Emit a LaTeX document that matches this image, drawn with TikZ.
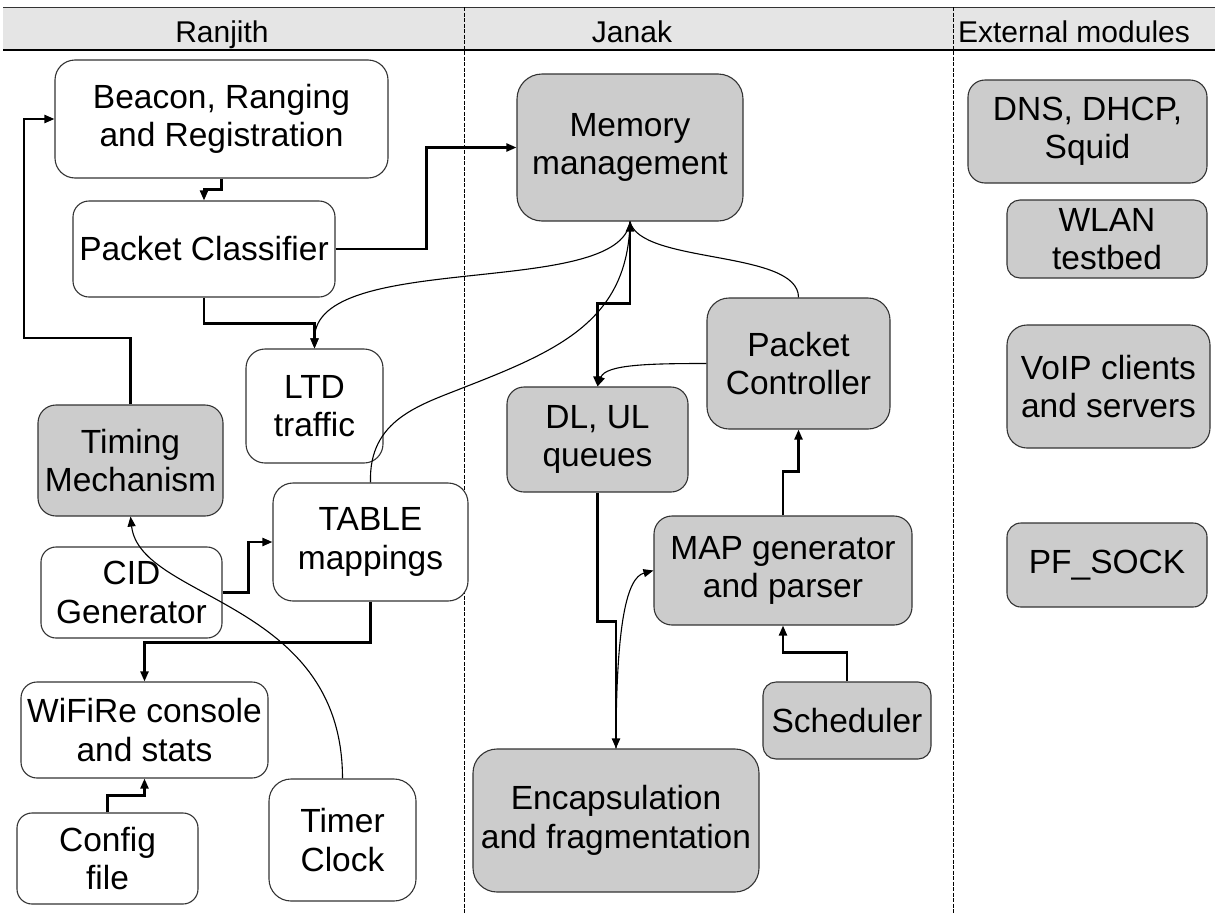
\documentclass[tikz,border=0pt]{standalone}
\usepackage{fontspec}
\setmainfont{Liberation Sans}
\usetikzlibrary{arrows.meta}

\tikzset{
  box/.style={draw=black!80, line width=1.1pt, rectangle, inner sep=0pt, align=center,
              font=\fontsize{33.5}{38.5}\selectfont},
  wbox/.style={box, fill=white},
  gbox/.style={box, fill=black!20},
  conn/.style={line width=2.2pt, -{Triangle[length=10pt,width=8pt]}},
  bothconn/.style={line width=2.2pt, {Triangle[length=10pt,width=8pt]}-{Triangle[length=10pt,width=8pt]}},
  curve/.style={line width=1.1pt},
  curvearrow/.style={line width=1.1pt, -{Triangle[length=10pt,width=8pt]}},
  lane/.style={line width=1pt, dash pattern=on 4pt off 1.5pt},
  hdrtext/.style={anchor=base, font=\fontsize{30}{34}\selectfont},
}

\begin{document}
\begin{tikzpicture}[x=1pt, y=-1pt]
\useasboundingbox (0,0) rectangle (1215,913);

% header band with the three column titles
\fill[black!10] (3,7) rectangle (1215,50);
\draw[line width=1pt, black!80] (3,7) -- (1215,7);
\draw[line width=2.6pt] (3,50) -- (1215,50);
\node[hdrtext] (hRanjith) at (222,42) {Ranjith};
\node[hdrtext] (hJanak) at (632,42) {Janak};
\node[hdrtext] (hExt) at (1074,42) {External modules};

% column separators
\draw[lane] (464,7) -- (464,913);
\draw[lane] (953,7) -- (953,913);

% Ranjith's modules
\node[wbox, minimum width=333pt, minimum height=118pt, rounded corners=20pt] (beacon) at (221.5,119) {Beacon, Ranging\\and Registration};
\node[wbox, minimum width=262pt, minimum height=96pt, rounded corners=16pt] (pc) at (204,249) {Packet Classifier};
\node[wbox, minimum width=137pt, minimum height=114pt, rounded corners=19pt] (ltd) at (314.5,406) {LTD\\traffic};
\node[gbox, minimum width=185pt, minimum height=111pt, rounded corners=18pt] (timing) at (130.5,460.5) {Timing\\Mechanism};
\node[wbox, minimum width=195pt, minimum height=118pt, rounded corners=20pt] (tbl) at (370.5,542) {TABLE\\mappings};
\node[wbox, minimum width=181pt, minimum height=91pt, rounded corners=15pt] (cid) at (131.5,592.5) {CID\\Generator};
\node[wbox, minimum width=247pt, minimum height=96pt, rounded corners=16pt] (wifi) at (144.5,730) {WiFiRe console\\and stats};
\node[wbox, minimum width=181pt, minimum height=91pt, rounded corners=15pt] (cfg) at (107.5,858.5) {Config\\file};
\node[wbox, minimum width=147pt, minimum height=122pt, rounded corners=22pt] (timer) at (342.5,840) {Timer\\Clock};

% Janak's modules
\node[gbox, minimum width=226pt, minimum height=147pt, rounded corners=25pt] (mem) at (630,147.5) {Memory\\management};
\node[gbox, minimum width=181pt, minimum height=105pt, rounded corners=17pt] (dl) at (597.5,439.5) {DL, UL\\queues};
\node[gbox, minimum width=183pt, minimum height=131pt, rounded corners=22pt] (pctl) at (798.5,363.5) {Packet\\Controller};
\node[gbox, minimum width=258pt, minimum height=109pt, rounded corners=18pt] (map) at (783,570.5) {MAP generator\\and parser};
\node[gbox, minimum width=168pt, minimum height=77pt, rounded corners=13pt] (sched) at (847,720.5) {Scheduler};
\node[gbox, minimum width=286pt, minimum height=143pt, rounded corners=24pt] (enc) at (616,820.5) {Encapsulation\\and fragmentation};

% external modules
\node[gbox, minimum width=239pt, minimum height=103pt, rounded corners=17pt] (dns) at (1087.5,131.5) {DNS, DHCP,\\Squid};
\node[gbox, minimum width=200pt, minimum height=78pt, rounded corners=13pt] (wlan) at (1107,239) {WLAN\\testbed};
\node[gbox, minimum width=203pt, minimum height=123pt, rounded corners=20pt] (voip) at (1108.5,386.5) {VoIP clients\\and servers};
\node[gbox, minimum width=200pt, minimum height=84pt, rounded corners=14pt] (pfs) at (1107,565) {PF\_SOCK};

% orthogonal connectors
\coordinate (loopL) at (24,338);
\draw[conn] (timing.north) |- (loopL) |- (beacon.west);
\draw[conn] (beacon.south) -- ++(0,11) -| (pc.north);
\draw[conn] (pc.east) -- ++(91,0) |- (mem.west);
\draw[conn] (pc.south) -- ++(0,26) -| (ltd.north);
\draw[conn] (cid.east) -- ++(26,0) |- (tbl.west);
\draw[conn] (tbl.south) -- ++(0,41) -| (wifi.north);
\draw[conn] (cfg.north) -- ++(0,-17) -| (wifi.south);
\draw[bothconn] (dl.north) -- ++(0,-83) -| (mem.south);
\draw[conn] (map.north) -- ++(0,-44) -| (pctl.south);
\draw[conn] (sched.north) -- ++(0,-29) -| (map.south);
\draw[conn] (dl.south) -- ++(0,129) -| (enc.north);

% curved connectors
\coordinate (tblbend) at (465,387);
\draw[curvearrow] (mem.south) .. controls +(-10,78) and +(0,-99) .. (ltd.north);
\draw[curve] (tbl.north) .. controls +(-2,-63) and +(-45,18) .. (tblbend)
             .. controls +(95,-37) and +(-2,98) .. (mem.south);
\draw[curve] (pctl.north) .. controls +(0,-48) and +(10,43) .. (mem.south);
\draw[curvearrow] (pctl.west) .. controls +(-57,0) and +(8,-22) .. (dl.north);
\draw[curvearrow] (enc.north) .. controls +(0,-129) and +(-26,7) .. (map.west);
\draw[curvearrow] (timer.north) .. controls +(0,-179) and +(9.5,84) .. (timing.south);
\end{tikzpicture}
\end{document}
